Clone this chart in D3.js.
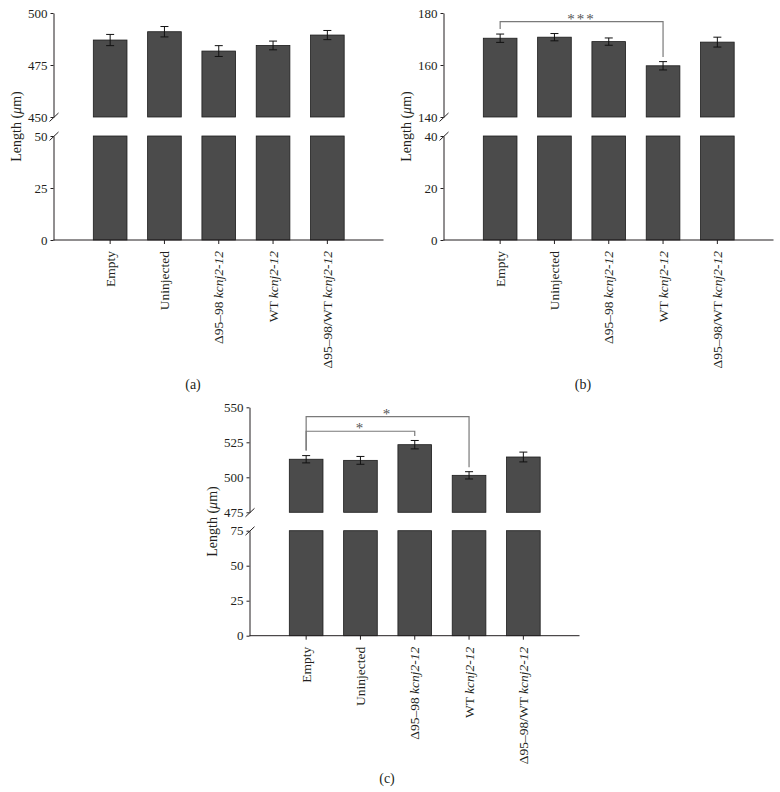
<!DOCTYPE html>
<html>
<head>
<meta charset="utf-8">
<script src="https://cdn.jsdelivr.net/npm/d3@7"></script>
<style>
  html, body { margin: 0; padding: 0; background: #fff; }
  svg { display: block; font-family: "Liberation Serif", "Times New Roman", serif; }
</style>
</head>
<body>
<div id="grafico"></div>
<script>
// categorias (parte normal + parte en italica)
const categories = ["empty", "uninjected", "del", "wt", "delwt"];
const labelPlain = ["Empty", "Uninjected", "\u039495\u201398 ", "WT ", "\u039495\u201398/WT "];
const labelItalic = ["", "", "kcnj2-12", "kcnj2-12", "kcnj2-12"];

// panel (a)
const meansA = [487.0, 491.0, 481.7, 484.4, 489.4];
const errA = [2.7, 2.5, 2.6, 2.1, 2.2];
const ticksUpA = [450, 475, 500];
const ticksLowA = [0, 25, 50];

// panel (b)
const meansB = [170.3, 170.7, 169.0, 159.7, 168.8];
const errB = [1.6, 1.4, 1.4, 1.6, 1.9];
const ticksUpB = [140, 160, 180];
const ticksLowB = [0, 20, 40];
const sigB = [{ from: 0, to: 3, level: 176.7, label: "***" }];

// panel (c)
const meansC = [512.9, 512.1, 523.3, 501.4, 514.5];
const errC = [2.6, 2.8, 3.0, 2.6, 3.5];
const ticksUpC = [475, 500, 525, 550];
const ticksLowC = [0, 25, 50, 75];
const sigC = [
    { from: 0, to: 3, level: 543.3, label: "*" },
    { from: 0, to: 2, level: 532.9, label: "*" }
];

const panelLabels = ["(a)", "(b)", "(c)"];

const ink = "#231f20";
const barFill = "#4b4b4b";
const sigColor = "#7a7a7a";

const svg = d3.select("#grafico")
    .append("svg")
    .attr("width", 780)
    .attr("height", 792)
    .style("background", "#fff");

function panel(opt) {
    const g = svg.append("g");

    /**************************************************
     * Escalas (eje cortado: tramo superior e inferior)
    ***************************************************/
    const up = opt.ticksUp, low = opt.ticksLow;
    const yUp = d3.scaleLinear()
        .domain([up[0], up[up.length - 1]])
        .range([opt.upBottom, opt.top]);
    const yLow = d3.scaleLinear()
        .domain([0, low[low.length - 1]])
        .range([opt.base, opt.lowTop]);

    const x = d3.scaleBand()
        .domain(categories)
        .range([opt.axisX + 29.5, opt.axisX + 301])
        .paddingInner(0.38)
        .paddingOuter(0.19);

    const data = categories.map((c, i) => ({ c, i, m: opt.means[i], e: opt.errs[i] }));

    /**************************************************
     * Barras
    ***************************************************/
    g.selectAll(".bar-up")
        .data(data)
        .enter()
        .append("rect")
        .attr("x", d => x(d.c))
        .attr("y", d => yUp(d.m))
        .attr("width", x.bandwidth())
        .attr("height", d => opt.upBottom - yUp(d.m))
        .attr("fill", barFill)
        .attr("stroke", "#1c1c1c")
        .attr("stroke-width", 0.8);

    g.selectAll(".bar-low")
        .data(data)
        .enter()
        .append("rect")
        .attr("x", d => x(d.c))
        .attr("y", opt.lowTop)
        .attr("width", x.bandwidth())
        .attr("height", opt.base - opt.lowTop)
        .attr("fill", barFill)
        .attr("stroke", "#1c1c1c")
        .attr("stroke-width", 0.8);

    // barras de error
    const eb = g.selectAll(".err")
        .data(data)
        .enter()
        .append("g")
        .attr("stroke", "#111")
        .attr("stroke-width", 1);
    const cx = d => x(d.c) + x.bandwidth() / 2;
    eb.append("line")
        .attr("x1", cx).attr("x2", cx)
        .attr("y1", d => yUp(d.m + d.e)).attr("y2", d => yUp(d.m - d.e));
    eb.append("line")
        .attr("x1", d => cx(d) - 4).attr("x2", d => cx(d) + 4)
        .attr("y1", d => yUp(d.m + d.e)).attr("y2", d => yUp(d.m + d.e));
    eb.append("line")
        .attr("x1", d => cx(d) - 4).attr("x2", d => cx(d) + 4)
        .attr("y1", d => yUp(d.m - d.e)).attr("y2", d => yUp(d.m - d.e));

    /**************************************************
     * Ejes
    ***************************************************/
    const axUp = g.append("g")
        .attr("transform", `translate(${opt.axisX},0)`)
        .call(d3.axisLeft(yUp).tickValues(up).tickSize(3).tickSizeOuter(0).tickPadding(3));
    const axLow = g.append("g")
        .attr("transform", `translate(${opt.axisX},0)`)
        .call(d3.axisLeft(yLow).tickValues(low).tickSize(3).tickSizeOuter(0).tickPadding(3));
    [axUp, axLow].forEach(a => {
        a.selectAll("path, line").attr("stroke", ink);
        a.selectAll("text")
            .attr("fill", ink)
            .style("font-family", "Liberation Serif, serif")
            .style("font-size", "13px");
    });

    // marcas de corte
    [opt.upBottom, opt.lowTop].forEach(yy => {
        g.append("line")
            .attr("x1", opt.axisX - 4).attr("y1", yy + 4.5)
            .attr("x2", opt.axisX + 5).attr("y2", yy - 4)
            .attr("stroke", ink).attr("stroke-width", 1);
    });

    // eje x
    g.append("line")
        .attr("x1", opt.axisX).attr("x2", opt.axisX + 330)
        .attr("y1", opt.base).attr("y2", opt.base)
        .attr("stroke", ink).attr("stroke-width", 1);
    const axX = g.append("g")
        .attr("transform", `translate(0,${opt.base})`)
        .call(d3.axisBottom(x).tickSize(4).tickFormat(""));
    axX.select(".domain").remove();
    axX.selectAll("line").attr("stroke", ink);

    // etiquetas de categorias (rotadas)
    const lab = g.selectAll(".cat")
        .data(data)
        .enter()
        .append("text")
        .attr("transform", d => `translate(${cx(d)},${opt.base + 11}) rotate(-90)`)
        .attr("text-anchor", "end")
        .attr("dy", "0.35em")
        .attr("fill", ink)
        .style("font-size", "13.5px");
    lab.append("tspan").text(d => labelPlain[d.i]);
    lab.append("tspan").style("font-style", "italic").text(d => labelItalic[d.i]);

    // titulo eje y
    const yt = g.append("text")
        .attr("transform", `translate(${opt.axisX - 33},${(opt.top + opt.base) / 2}) rotate(-90)`)
        .attr("text-anchor", "middle")
        .attr("fill", ink)
        .style("font-size", "14px");
    yt.append("tspan").text("Length (");
    yt.append("tspan").style("font-style", "italic").text("\u03bc");
    yt.append("tspan").text("m)");

    /**************************************************
     * Significancia
    ***************************************************/
    (opt.sig || []).forEach(s => {
        const a = data[s.from], b = data[s.to];
        const yy = yUp(s.level);
        const path = d3.path();
        path.moveTo(cx(a), yUp(a.m + a.e) - 5);
        path.lineTo(cx(a), yy);
        path.lineTo(cx(b), yy);
        path.lineTo(cx(b), yUp(b.m + b.e) - 4.5);
        g.append("path")
            .attr("d", path.toString())
            .attr("fill", "none")
            .attr("stroke", sigColor)
            .attr("stroke-width", 1.2);
        g.append("text")
            .attr("x", (cx(a) + cx(b)) / 2)
            .attr("y", yy + 2)
            .attr("text-anchor", "middle")
            .attr("fill", "#555")
            .style("font-size", "15px")
            .style("letter-spacing", "2px")
            .text(s.label);
    });

    // etiqueta del panel
    g.append("text")
        .attr("x", opt.labelX)
        .attr("y", opt.labelY)
        .attr("text-anchor", "middle")
        .attr("fill", ink)
        .style("font-size", "14px")
        .text(opt.label);
}

panel({ axisX: 53.5, top: 13, upBottom: 117, lowTop: 136, base: 240,
        means: meansA, errs: errA, ticksUp: ticksUpA, ticksLow: ticksLowA,
        label: panelLabels[0], labelX: 193, labelY: 389 });
panel({ axisX: 443.5, top: 13, upBottom: 117, lowTop: 136, base: 240,
        means: meansB, errs: errB, ticksUp: ticksUpB, ticksLow: ticksLowB, sig: sigB,
        label: panelLabels[1], labelX: 583, labelY: 389 });
panel({ axisX: 249.5, top: 407.3, upBottom: 512.3, lowTop: 530.7, base: 635.7,
        means: meansC, errs: errC, ticksUp: ticksUpC, ticksLow: ticksLowC, sig: sigC,
        label: panelLabels[2], labelX: 387, labelY: 783 });
</script>
</body>
</html>
